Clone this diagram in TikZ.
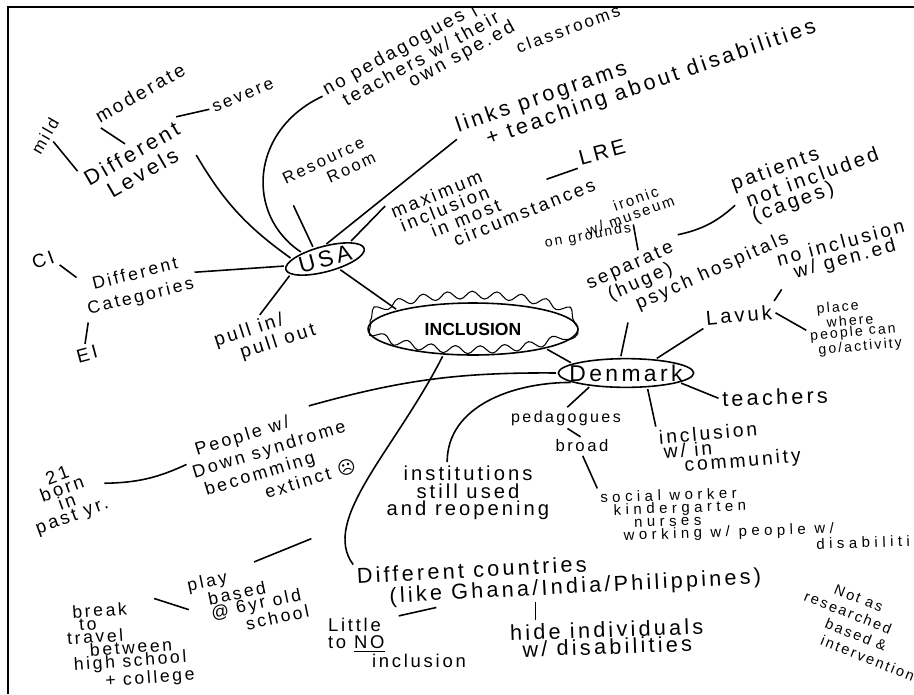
\documentclass[tikz,border=0pt]{standalone}
\usepackage{fontspec}
\setmainfont{Liberation Sans}[LetterSpace=15]
\newfontfamily\plainfont{Liberation Sans}
\newfontfamily\facefont{DejaVu Sans}
\usetikzlibrary{shapes.geometric,decorations.pathmorphing,calc}
\newcommand{\hs}[2]{\fontsize{#1}{#2}\selectfont}

\begin{document}
\begin{tikzpicture}[
  x=0.02cm, y=-0.02cm,
  note/.style={inner sep=1pt, align=center},
  lnote/.style={inner sep=1pt, align=left},
  link/.style={line width=0.9pt, shorten <=1pt, shorten >=1pt},
  hub/.style={ellipse, draw, line width=0.9pt}
]
\useasboundingbox (0,0) rectangle (914,694);
\begin{scope}
\clip (9,8) rectangle (914,694);

% --- USA ---
\node[hub, rotate=15, inner xsep=1pt, inner ysep=0.5pt, font=\hs{13}{13}] (usa) at (325,259) {USA};
\node[note, rotate=60, font=\hs{9.5}{9.5}] (mild) at (45,136) {mild};
\node[note, rotate=30, font=\hs{10.8}{10.8}] (moderate) at (140,93) {moderate};
\node[note, rotate=30, font=\hs{12.2}{12.5}] (levels) at (137,163) {Different\\Levels};
\node[note, rotate=22, font=\hs{9.8}{9.8}] (severe) at (243,96) {severe};
\node[lnote, rotate=29, font=\hs{10.6}{7.5}] (nopeda) at (419,59) {no pedagogues |\\\hspace*{7pt}teachers w/ their\\\hspace*{45pt}own spe.\,ed};
\node[note, rotate=20, font=\hs{9.7}{9.7}] (classrooms) at (568,29) {classrooms};
\node[lnote, rotate=25, font=\hs{9.4}{10.5}] (resource) at (329,168) {Resource\\\hspace*{23pt}Room};
\node[lnote, rotate=19, font=\hs{12.3}{11}] (links) at (636,77) {links programs\\\hspace*{14pt}+ teaching about disabilities};
\node[lnote, rotate=22, font=\hs{10.5}{9.4}] (maximum) at (493,198) {maximum\\\hspace*{2pt}inclusion\\\hspace*{17pt}in most\\\hspace*{27pt}circumstances};
\node[note, rotate=15, font=\hs{12}{12}] (lre) at (602,152) {LRE};
\node[note, rotate=14, font=\hs{10}{13}] (dcat) at (138,286) {Different\\Categories};
\node[note, rotate=20, font=\hs{10.8}{10.8}] (ci) at (43,260) {CI};
\node[note, rotate=15, font=\hs{10.8}{10.8}] (ei) at (87,354) {EI};
\node[lnote, rotate=18, font=\hs{10.8}{11}] (pullio) at (265,336) {pull in/\\\hspace*{12pt}pull out};

\draw[link] (mild.south) -- (levels.north west);
\draw[link] (moderate.south west) -- (levels.north);
\draw[link] (levels.north east) -- (severe.west);
\draw[link] (levels.south east) to[bend right=12] (usa.165);
\draw[link] (usa.150) .. controls (245,215) and (250,130) .. ($(nopeda.north west)!.5!(nopeda.west)$);
\draw[link] (resource.south west) -- (usa.122);
\draw[link] (usa.75) -- (links.west);
\draw[link] (usa.19) -- (maximum.north west);
\draw[link] ($(lre.south west)!.4!(maximum.center)$) -- (lre.south west);
\draw[link] (ci.south east) -- (dcat.north west);
\draw[link] (dcat.east) -- (usa.175);
\draw[link] (dcat.south west) -- (ei.north);
\draw[link] (pullio.north) -- (usa.189);

% --- INCLUSION ---
\node[hub, minimum width=4.2cm, minimum height=1.04cm, font=\plainfont\bfseries\hs{10}{10}] (inc) at (473,329) {INCLUSION};
\draw[line width=0.6pt, decorate, decoration={snake, amplitude=2.2pt, segment length=14pt}] (inc.center) ellipse [x radius=2.1cm, y radius=0.52cm];
\draw[link] (usa.310) -- (inc.166);

% --- Denmark ---
\node[hub, inner xsep=-5pt, inner ysep=1pt, font=\hs{13}{13}] (den) at (626,373) {Denmark};
\node[lnote, rotate=24, font=\hs{10.7}{8.4}] (sep) at (688,262) {separate\\\hspace*{8.5pt}(huge)\\\hspace*{21pt}psych hospitals};
\node[lnote, rotate=20, font=\hs{8.5}{8}] (wmus) at (628,209) {\hspace*{19pt}ironic\\w/ museum};
\node[note, rotate=10, font=\hs{8}{8}] (grounds) at (588,236) {on grounds};
\node[lnote, rotate=20, font=\hs{11.5}{8}] (patients) at (808,178) {patients\\\hspace*{5pt}not included\\\hspace*{5pt}(cages)};
\node[note, rotate=15, font=\hs{11}{8}] (noinc) at (843,252) {no inclusion\\w/ gen.\,ed};
\node[note, rotate=5, font=\hs{11.5}{11.5}] (lavuk) at (739,315) {Lavuk};
\node[lnote, rotate=5, font=\hs{8}{6.3}] (place) at (855,327) {\hspace*{5pt}place\\\hspace*{10pt}where\\people can\\\hspace*{4pt}go/activity};
\node[note, rotate=2, font=\hs{12.3}{12.3}] (teachers) at (775,397) {teachers};
\node[note, font=\hs{9.1}{9.1}] (peda) at (566,418) {pedagogues};
\node[note, font=\hs{9.5}{9.5}] (broad) at (582,446) {broad};
\node[lnote, rotate=2, anchor=north west, font=\hs{8.5}{6.2}\addfontfeature{LetterSpace=30}] (social) at (598,490) {social worker\\\hspace*{7.4pt}kindergarten\\\hspace*{18.7pt}nurses\\\hspace*{12.5pt}working w/ people w/\\\hspace*{122pt}disabilities};
\node[lnote, rotate=5, font=\hs{11}{8.5}] (community) at (730,448) {inclusion\\\hspace*{2pt}w/ in\\\hspace*{13pt}community};
\node[note, font=\hs{11.5}{10}] (inst) at (468,493) {institutions\\still used\\and reopening};
\node[lnote, rotate=17, font=\hs{10.2}{11.7}] (down) at (272,459) {\hspace*{5pt}People w/\\Down syndrome\\\hspace*{3.7pt}becomming\\\hspace*{36pt}extinct {\facefont ☹}};
\node[note, rotate=20, font=\hs{10.5}{8}] (born) at (65,497) {21\\born\\in\\past yr.};

\draw[link] (inc.-15) -- (den.170);
\draw[link] ($(sep.south west)!.12!(sep.south east)$) -- (den.110);
\draw[link] (wmus.south) -- ($(sep.north west)!.3!(sep.north east)$);
\draw[link] (sep.north) to[bend right=15] (patients.west);
\draw[link] (den.25) -- (lavuk.south west);
\draw[link] (lavuk.north east) -- (noinc.south west);
\draw[link] (lavuk.east) -- (place.west);
\draw[link] (den.350) -- (teachers.west);
\draw[link] (den.200) -- (peda.north);
\draw[link] (peda.south) -- (broad.north);
\draw[link] (broad.south) -- (social.north west);
\draw[link] (den.326) -- (community.north west);
\draw[link] (den.190) to[out=180, in=90] ($(inst.north west)!.75!(inst.north)$);
\draw[link] (den.180) to[bend right=8] ($(down.north)!.6!(down.north east)$);
\draw[link] (born.east) to[bend right=12] ($(down.north west)!.5!(down.west)$);

% --- lower part ---
\node[lnote, rotate=3, font=\hs{12.3}{12}] (countries) at (559,578) {Different countries\\\hspace*{18pt}(like Ghana/India/Philippines)};
\node[lnote, font=\hs{10.5}{9.6}] (little) at (397,643) {Little\\to \underline{NO}\\\hspace*{25pt}inclusion};
\node[note, rotate=2, font=\hs{12.3}{9.6}] (hide) at (607,638) {hide individuals\\w/ disabilities};
\node[lnote, rotate=12, font=\hs{10}{8}] (play) at (248,598) {play\\\hspace*{10pt}based\\\hspace*{10pt}@ 6yr old\\\hspace*{28pt}school};
\coordinate (playend) at (313,538);
\node[lnote, rotate=4, font=\hs{10}{7.4}] (breakn) at (130,645) {\hspace*{4pt}break\\\hspace*{7.4pt}to\\travel\\\hspace*{12.5pt}between\\\hspace*{2.8pt}high school\\\hspace*{20pt}+ college};
\node[lnote, rotate=-22, font=\hs{8.3}{10}] (notas) at (867,630) {\hspace*{14.5pt}Not as\\researched\\\hspace*{17pt}based \&\\\hspace*{18.3pt}interventions};
\coordinate (h1) at ($(hide.north west)!.14!(hide.north east)$);

\draw[link] (inc.221) .. controls (395,450) and (320,520) .. (countries.north west);
\draw[link] ($(countries.south west)!.2!(countries.south east)$) -- (little.north);
\draw[link] (h1) -- (h1 |- countries.south);
\draw[link] ($(play.north)!.2!(play.north east)$) -- (playend);
\draw[link] ($(breakn.north)!.4!(breakn.north east)$) -- (play.west);
\end{scope}

\draw[line width=1.4pt] (8,694) -- (8,7) -- (914,7);
\end{tikzpicture}
\end{document}
